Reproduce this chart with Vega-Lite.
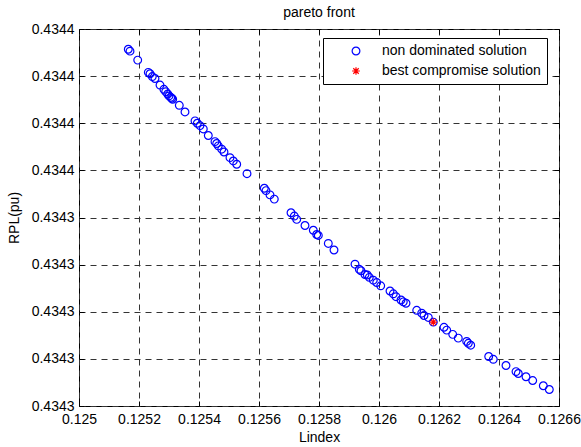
{
  "$schema": "https://vega.github.io/schema/vega-lite/v6.json",
  "width": 480,
  "height": 377,
  "autosize": "none",
  "padding": {"left": 79, "top": 29, "right": 22, "bottom": 41},
  "background": "white",
  "title": {"text": "pareto front", "font": "Liberation Sans", "fontSize": 14, "fontWeight": "normal", "color": "black", "anchor": "middle", "offset": 2},
  "config": {
    "view": {"stroke": "black", "strokeWidth": 1},
    "axis": {
      "labelFont": "Liberation Sans", "labelFontSize": 14, "labelColor": "black",
      "titleFont": "Liberation Sans", "titleFontSize": 14, "titleFontWeight": "normal", "titleColor": "black",
      "domain": false, "tickColor": "black", "tickSize": -5, "tickWidth": 1,
      "gridColor": "#333333", "gridDash": [6, 5], "gridWidth": 1, "labelOverlap": false, "labelFlush": false
    },
    "legend": {
      "labelFont": "Liberation Sans", "labelFontSize": 14, "labelColor": "black",
      "strokeColor": "black", "fillColor": "white", "padding": 6,
      "symbolOffset": 20, "labelOffset": 19, "rowPadding": 6,
      "symbolStrokeWidth": 1.2, "symbolSize": 60, "labelLimit": 300
    }
  },
  "data": {
    "values": [
      {"Lindex": 0.1251643, "RPL": 0.4343807, "type": "non dominated solution"},
      {"Lindex": 0.1251700, "RPL": 0.4343803, "type": "non dominated solution"},
      {"Lindex": 0.1251957, "RPL": 0.4343784, "type": "non dominated solution"},
      {"Lindex": 0.1252310, "RPL": 0.4343758, "type": "non dominated solution"},
      {"Lindex": 0.1252367, "RPL": 0.4343755, "type": "non dominated solution"},
      {"Lindex": 0.1252443, "RPL": 0.4343749, "type": "non dominated solution"},
      {"Lindex": 0.1252533, "RPL": 0.4343745, "type": "non dominated solution"},
      {"Lindex": 0.1252700, "RPL": 0.4343731, "type": "non dominated solution"},
      {"Lindex": 0.1252830, "RPL": 0.4343722, "type": "non dominated solution"},
      {"Lindex": 0.1252890, "RPL": 0.4343717, "type": "non dominated solution"},
      {"Lindex": 0.1252957, "RPL": 0.4343712, "type": "non dominated solution"},
      {"Lindex": 0.1253000, "RPL": 0.4343708, "type": "non dominated solution"},
      {"Lindex": 0.1253057, "RPL": 0.4343705, "type": "non dominated solution"},
      {"Lindex": 0.1253090, "RPL": 0.4343703, "type": "non dominated solution"},
      {"Lindex": 0.1253123, "RPL": 0.4343701, "type": "non dominated solution"},
      {"Lindex": 0.1253343, "RPL": 0.4343688, "type": "non dominated solution"},
      {"Lindex": 0.1253533, "RPL": 0.4343674, "type": "non dominated solution"},
      {"Lindex": 0.1253867, "RPL": 0.4343655, "type": "non dominated solution"},
      {"Lindex": 0.1253943, "RPL": 0.4343650, "type": "non dominated solution"},
      {"Lindex": 0.1254033, "RPL": 0.4343645, "type": "non dominated solution"},
      {"Lindex": 0.1254143, "RPL": 0.4343638, "type": "non dominated solution"},
      {"Lindex": 0.1254310, "RPL": 0.4343624, "type": "non dominated solution"},
      {"Lindex": 0.1254533, "RPL": 0.4343611, "type": "non dominated solution"},
      {"Lindex": 0.1254590, "RPL": 0.4343607, "type": "non dominated solution"},
      {"Lindex": 0.1254643, "RPL": 0.4343602, "type": "non dominated solution"},
      {"Lindex": 0.1254757, "RPL": 0.4343595, "type": "non dominated solution"},
      {"Lindex": 0.1254833, "RPL": 0.4343589, "type": "non dominated solution"},
      {"Lindex": 0.1255033, "RPL": 0.4343577, "type": "non dominated solution"},
      {"Lindex": 0.1255143, "RPL": 0.4343570, "type": "non dominated solution"},
      {"Lindex": 0.1255257, "RPL": 0.4343563, "type": "non dominated solution"},
      {"Lindex": 0.1255600, "RPL": 0.4343543, "type": "non dominated solution"},
      {"Lindex": 0.1256177, "RPL": 0.4343512, "type": "non dominated solution"},
      {"Lindex": 0.1256233, "RPL": 0.4343507, "type": "non dominated solution"},
      {"Lindex": 0.1256367, "RPL": 0.4343498, "type": "non dominated solution"},
      {"Lindex": 0.1256510, "RPL": 0.4343489, "type": "non dominated solution"},
      {"Lindex": 0.1257067, "RPL": 0.4343460, "type": "non dominated solution"},
      {"Lindex": 0.1257177, "RPL": 0.4343453, "type": "non dominated solution"},
      {"Lindex": 0.1257257, "RPL": 0.4343446, "type": "non dominated solution"},
      {"Lindex": 0.1257533, "RPL": 0.4343433, "type": "non dominated solution"},
      {"Lindex": 0.1257810, "RPL": 0.4343423, "type": "non dominated solution"},
      {"Lindex": 0.1257923, "RPL": 0.4343414, "type": "non dominated solution"},
      {"Lindex": 0.1257977, "RPL": 0.4343412, "type": "non dominated solution"},
      {"Lindex": 0.1258310, "RPL": 0.4343395, "type": "non dominated solution"},
      {"Lindex": 0.1258500, "RPL": 0.4343381, "type": "non dominated solution"},
      {"Lindex": 0.1259200, "RPL": 0.4343351, "type": "non dominated solution"},
      {"Lindex": 0.1259343, "RPL": 0.4343340, "type": "non dominated solution"},
      {"Lindex": 0.1259400, "RPL": 0.4343337, "type": "non dominated solution"},
      {"Lindex": 0.1259533, "RPL": 0.4343329, "type": "non dominated solution"},
      {"Lindex": 0.1259610, "RPL": 0.4343328, "type": "non dominated solution"},
      {"Lindex": 0.1259677, "RPL": 0.4343323, "type": "non dominated solution"},
      {"Lindex": 0.1259810, "RPL": 0.4343317, "type": "non dominated solution"},
      {"Lindex": 0.1259923, "RPL": 0.4343312, "type": "non dominated solution"},
      {"Lindex": 0.1260057, "RPL": 0.4343305, "type": "non dominated solution"},
      {"Lindex": 0.1260367, "RPL": 0.4343294, "type": "non dominated solution"},
      {"Lindex": 0.1260477, "RPL": 0.4343288, "type": "non dominated solution"},
      {"Lindex": 0.1260567, "RPL": 0.4343282, "type": "non dominated solution"},
      {"Lindex": 0.1260733, "RPL": 0.4343275, "type": "non dominated solution"},
      {"Lindex": 0.1260810, "RPL": 0.4343271, "type": "non dominated solution"},
      {"Lindex": 0.1260900, "RPL": 0.4343268, "type": "non dominated solution"},
      {"Lindex": 0.1261257, "RPL": 0.4343253, "type": "non dominated solution"},
      {"Lindex": 0.1261423, "RPL": 0.4343247, "type": "non dominated solution"},
      {"Lindex": 0.1261500, "RPL": 0.4343242, "type": "non dominated solution"},
      {"Lindex": 0.1261643, "RPL": 0.4343238, "type": "non dominated solution"},
      {"Lindex": 0.1261810, "RPL": 0.4343228, "type": "non dominated solution"},
      {"Lindex": 0.1262167, "RPL": 0.4343217, "type": "non dominated solution"},
      {"Lindex": 0.1262257, "RPL": 0.4343211, "type": "non dominated solution"},
      {"Lindex": 0.1262457, "RPL": 0.4343202, "type": "non dominated solution"},
      {"Lindex": 0.1262643, "RPL": 0.4343194, "type": "non dominated solution"},
      {"Lindex": 0.1262923, "RPL": 0.4343187, "type": "non dominated solution"},
      {"Lindex": 0.1262977, "RPL": 0.4343183, "type": "non dominated solution"},
      {"Lindex": 0.1263057, "RPL": 0.4343179, "type": "non dominated solution"},
      {"Lindex": 0.1263657, "RPL": 0.4343155, "type": "non dominated solution"},
      {"Lindex": 0.1263810, "RPL": 0.4343149, "type": "non dominated solution"},
      {"Lindex": 0.1264233, "RPL": 0.4343136, "type": "non dominated solution"},
      {"Lindex": 0.1264567, "RPL": 0.4343123, "type": "non dominated solution"},
      {"Lindex": 0.1264643, "RPL": 0.4343119, "type": "non dominated solution"},
      {"Lindex": 0.1264900, "RPL": 0.4343112, "type": "non dominated solution"},
      {"Lindex": 0.1265123, "RPL": 0.4343104, "type": "non dominated solution"},
      {"Lindex": 0.1265477, "RPL": 0.4343093, "type": "non dominated solution"},
      {"Lindex": 0.1265677, "RPL": 0.4343085, "type": "non dominated solution"},
      {"Lindex": 0.1261810, "RPL": 0.4343228, "type": "best compromise solution"}
    ]
  },
  "layer": [
    {
      "mark": {"type": "point", "filled": false, "strokeWidth": 1.2, "size": 60, "opacity": 1, "clip": true},
      "encoding": {
        "x": {"field": "Lindex", "type": "quantitative",
              "scale": {"domain": [0.125, 0.1266], "nice": false, "zero": false},
              "axis": {"values": [0.125, 0.1252, 0.1254, 0.1256, 0.1258, 0.126, 0.1262, 0.1264, 0.1266], "format": "~g", "title": "Lindex", "labelPadding": 11, "titlePadding": 4}},
        "y": {"field": "RPL", "type": "quantitative",
              "scale": {"domain": [0.434305, 0.434385], "nice": false, "zero": false},
              "axis": {"values": [0.434305, 0.434315, 0.434325, 0.434335, 0.434345, 0.434355, 0.434365, 0.434375, 0.434385], "format": ".4f", "title": "RPL(pu)", "labelPadding": 10, "titlePadding": 10}},
        "color": {"field": "type", "type": "nominal",
                  "scale": {"domain": ["non dominated solution", "best compromise solution"], "range": ["#0000ff", "#ff0000"]},
                  "legend": {"title": null, "orient": "none", "legendX": 244, "legendY": 9}},
        "shape": {"field": "type", "type": "nominal",
                  "scale": {"domain": ["non dominated solution", "best compromise solution"], "range": ["circle", "M-1,0L1,0M0,-1L0,1M-0.7,-0.7L0.7,0.7M-0.7,0.7L0.7,-0.7"]},
                  "legend": {"title": null, "orient": "none", "legendX": 244, "legendY": 9}}
      }
    },
    {
      "mark": {"type": "point", "opacity": 0},
      "encoding": {
        "x": {"field": "Lindex", "type": "quantitative",
              "axis": {"orient": "top", "values": [0.125, 0.1252, 0.1254, 0.1256, 0.1258, 0.126, 0.1262, 0.1264, 0.1266], "labels": false, "grid": false, "title": null}},
        "y": {"field": "RPL", "type": "quantitative",
              "axis": {"orient": "right", "values": [0.434305, 0.434315, 0.434325, 0.434335, 0.434345, 0.434355, 0.434365, 0.434375, 0.434385], "labels": false, "grid": false, "title": null}}
      }
    }
  ],
  "resolve": {"axis": {"x": "independent", "y": "independent"}}
}
